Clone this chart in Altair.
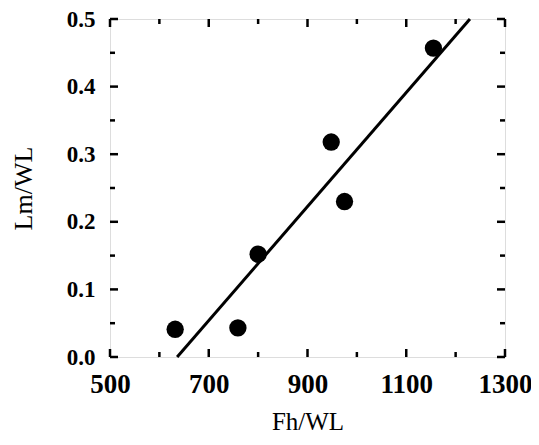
import altair as alt
import pandas as pd

# data
fh_wl = [632, 759, 800, 948, 975, 1155]
lm_wl = [0.041, 0.043, 0.152, 0.318, 0.230, 0.457]

fit_x = [636, 1229]
fit_y = [0.0, 0.5]

x_major = [500, 700, 900, 1100, 1300]
x_minor = [600, 800, 1000, 1200]
y_major = [0.0, 0.1, 0.2, 0.3, 0.4, 0.5]
y_minor = [0.05, 0.15, 0.25, 0.35, 0.45]

W, H = 395, 338
FONT = "Liberation Serif"

pts = pd.DataFrame({"x": fh_wl, "y": lm_wl})
fit = pd.DataFrame({"x": fit_x, "y": fit_y})

xs = alt.Scale(domain=[500, 1300], nice=False, zero=False)
ys = alt.Scale(domain=[0, 0.5], nice=False, zero=False)

points = alt.Chart(pts).mark_circle(size=300, color="black", opacity=1).encode(
    x=alt.X("x:Q", scale=xs, axis=alt.Axis(
        title="Fh/WL", values=x_major, format="d", ticks=False, domain=False, grid=False,
        labelFlush=False, labelFont=FONT, labelFontSize=27, labelFontWeight="bold",
        labelColor="black", labelPadding=14,
        titleFont=FONT, titleFontSize=25, titleFontWeight="normal", titleColor="black",
        titlePadding=12)),
    y=alt.Y("y:Q", scale=ys, axis=alt.Axis(
        title="Lm/WL", values=y_major, format=".1f", ticks=False, domain=False, grid=False,
        labelFlush=False, labelFont=FONT, labelFontSize=23, labelFontWeight="bold",
        labelColor="black", labelPadding=15,
        titleFont=FONT, titleFontSize=26, titleFontWeight="normal", titleColor="black",
        titlePadding=30)),
)

line = alt.Chart(fit).mark_line(color="black", strokeWidth=3).encode(
    x=alt.X("x:Q", scale=xs), y=alt.Y("y:Q", scale=ys))


def xticks(vals, length):
    d = pd.DataFrame({"x": vals})
    b = alt.Chart(d).mark_rule(color="black", strokeWidth=2.5).encode(
        x=alt.X("x:Q", scale=xs), y=alt.value(H), y2=alt.value(H - length))
    t = alt.Chart(d).mark_rule(color="black", strokeWidth=2.5).encode(
        x=alt.X("x:Q", scale=xs), y=alt.value(0), y2=alt.value(length))
    return [b, t]


def yticks(vals, length):
    d = pd.DataFrame({"y": vals})
    l = alt.Chart(d).mark_rule(color="black", strokeWidth=2.5).encode(
        y=alt.Y("y:Q", scale=ys), x=alt.value(0), x2=alt.value(length))
    r = alt.Chart(d).mark_rule(color="black", strokeWidth=2.5).encode(
        y=alt.Y("y:Q", scale=ys), x=alt.value(W), x2=alt.value(W - length))
    return [l, r]


layers = [line, points] + xticks(x_major, 8) + xticks(x_minor, 5) + yticks(y_major, 8) + yticks(y_minor, 5)

chart = alt.layer(*layers).properties(
    width=W, height=H,
    autosize=alt.AutoSizeParams(type="none"),
    padding={"left": 102, "top": 11, "right": 26, "bottom": 80},
).configure_view(
    stroke="black", strokeWidth=2.5
).configure(background="white")

chart.save("out.html", embed_options={"renderer": "svg", "actions": False})
